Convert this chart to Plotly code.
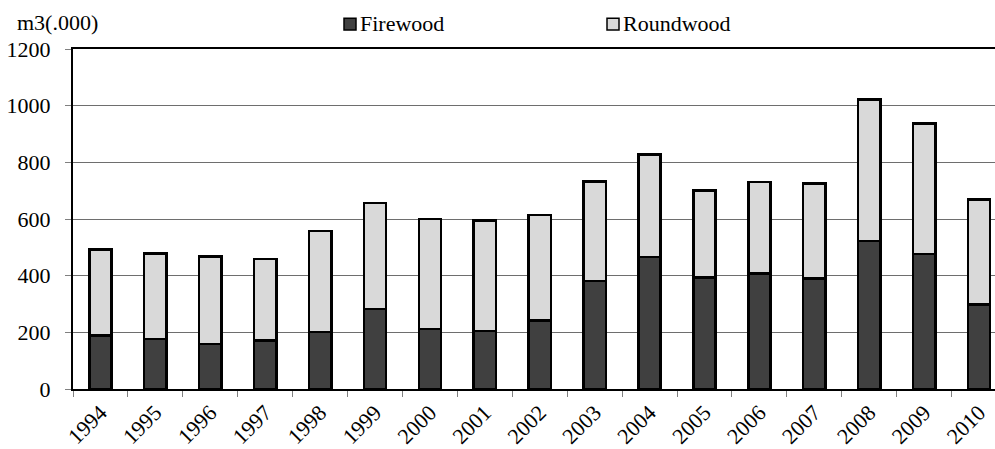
import plotly.graph_objects as go

# Annual removals, thousand cubic metres
years = ["1994", "1995", "1996", "1997", "1998", "1999", "2000", "2001", "2002",
         "2003", "2004", "2005", "2006", "2007", "2008", "2009", "2010"]
firewood = [189, 177, 159, 172, 201, 282, 212, 204, 241,
            381, 466, 394, 408, 390, 522, 476, 298]
roundwood = [304, 302, 309, 286, 356, 375, 388, 391, 374,
             351, 362, 306, 322, 335, 500, 461, 371]
y_ticks = [0, 200, 400, 600, 800, 1000, 1200]

FONT = "Liberation Serif"
DARK = "#404040"
LIGHT = "#d9d9d9"

W, H = 995, 449
L, R, T, B = 73, 0, 49, 58
plot_w = W - L - R
plot_h = H - T - B


def px_x(px):
    return (px - L) / plot_w


def px_y(py):
    return (H - B - py) / plot_h


fig = go.Figure()
fig.add_trace(go.Bar(x=years, y=firewood, name="Firewood",
                     marker=dict(color=DARK, line=dict(color="black", width=2.5))))
fig.add_trace(go.Bar(x=years, y=roundwood, name="Roundwood",
                     marker=dict(color=LIGHT, line=dict(color="black", width=2.5))))

# Legend drawn as swatches with captions
shapes = []
annotations = []
for left, label, color in [(344, "Firewood", DARK), (607, "Roundwood", LIGHT)]:
    shapes.append(dict(type="rect", xref="paper", yref="paper",
                       x0=px_x(left), x1=px_x(left + 12),
                       y0=px_y(30), y1=px_y(18),
                       fillcolor=color, line=dict(color="black", width=1.5)))
    annotations.append(dict(text=label, xref="paper", yref="paper",
                            x=px_x(left + 14), y=px_y(23.5),
                            xanchor="left", yanchor="middle", showarrow=False,
                            font=dict(family=FONT, size=22, color="black")))

annotations.append(dict(text="m3(.000)", xref="paper", yref="paper",
                        x=px_x(15), y=px_y(22), xanchor="left", yanchor="middle",
                        showarrow=False,
                        font=dict(family=FONT, size=22, color="black")))

fig.update_layout(
    width=W, height=H,
    margin=dict(l=L, r=R, t=T, b=B, pad=0),
    barmode="stack", bargap=0.594,
    plot_bgcolor="white", paper_bgcolor="white",
    showlegend=False,
    font=dict(family=FONT, size=22, color="black"),
    shapes=shapes, annotations=annotations,
    xaxis=dict(type="category", range=[-0.5, 16.29],
               tickson="boundaries", ticks="outside", ticklen=6,
               tickcolor="#808080", tickwidth=1,
               showline=True, linecolor="black", linewidth=2, mirror=True,
               showgrid=False, tickangle=-45,
               tickfont=dict(family=FONT, size=22, color="black")),
    yaxis=dict(range=[0, 1200], tickvals=y_ticks,
               ticks="outside", ticklen=6, tickcolor="#808080", tickwidth=1,
               ticklabelstandoff=10,
               showline=True, linecolor="black", linewidth=2,
               showgrid=True, gridcolor="#6e6e6e", gridwidth=1,
               zeroline=False,
               tickfont=dict(family=FONT, size=22, color="black")),
)

fig.write_html("out.html")
